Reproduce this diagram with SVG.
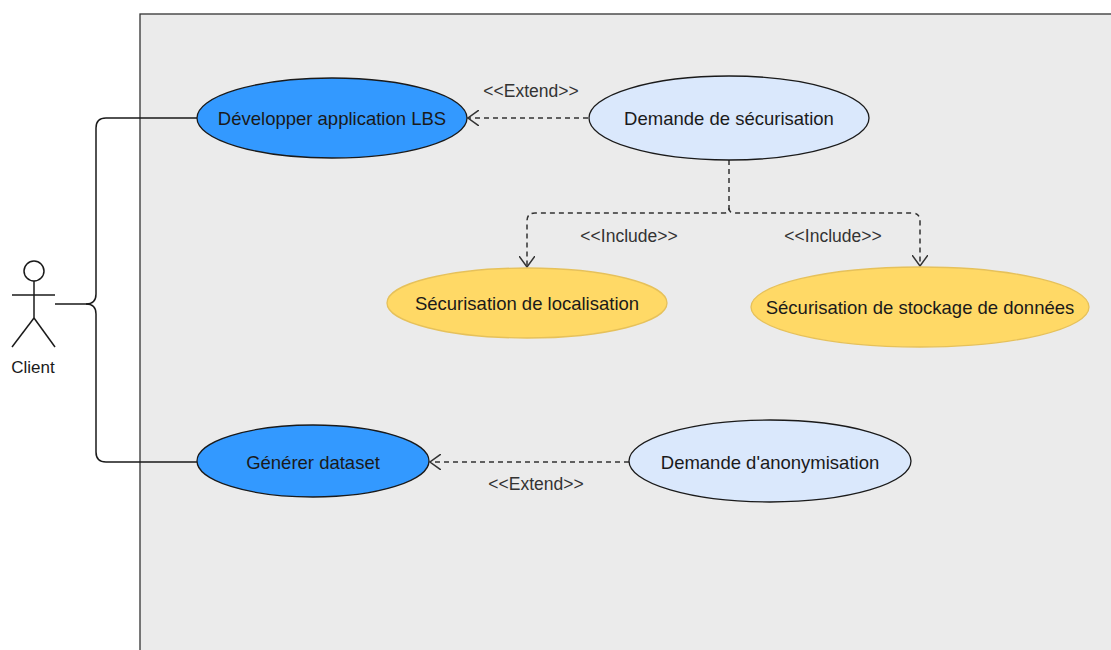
<svg xmlns="http://www.w3.org/2000/svg" width="1111" height="650" viewBox="0 0 1111 650">
<defs>
<style>
text{font-family:"Liberation Sans",Arial,sans-serif;text-anchor:middle;dominant-baseline:central;fill:#1a1a1a}
.lbl{font-size:18.5px}
.st{font-size:17.5px;fill:#333}
.blue{fill:#3399ff;stroke:#1a1a1a;stroke-width:1.3}
.lb{fill:#dae8fc;stroke:#1a1a1a;stroke-width:1.3}
.or{fill:#ffd966;stroke:#e6c15a;stroke-width:1.3}
.line{fill:none;stroke:#1a1a1a;stroke-width:1.5}
.dash{fill:none;stroke:#333;stroke-width:1.5;stroke-dasharray:5 4}
</style>
<marker id="open" viewBox="0 0 12 16" refX="11" refY="8" markerWidth="12" markerHeight="16" markerUnits="userSpaceOnUse" orient="auto">
<path d="M0,0 L11,8 L0,16" fill="none" stroke="#333" stroke-width="1.5"/>
</marker>
</defs>
<rect x="0" y="0" width="1111" height="650" fill="#ffffff"/>
<rect id="system" x="140" y="14" width="1000" height="660" fill="#ebebeb" stroke="#333" stroke-width="1.3"/>
<g id="actor-client" fill="none" stroke="#1a1a1a" stroke-width="1.5">
<circle cx="34" cy="271" r="10"/>
<line x1="34" y1="281" x2="34" y2="318"/>
<line x1="12" y1="295" x2="55" y2="295"/>
<line x1="34" y1="318" x2="12" y2="347"/>
<line x1="34" y1="318" x2="55" y2="347"/>
<text x="33" y="367" style="font-size:17px;stroke:none">Client</text>
</g>
<g id="connectors">
<path class="line" d="M55,304 H86 Q96,304 96,294 V128 Q96,118 106,118 H197"/>
<path class="line" d="M86,304 Q96,304 96,314 V452 Q96,462 106,462 H197"/>
<path class="dash" d="M588,118 H468" marker-end="url(#open)"/>
<path class="dash" d="M729,160 V208 Q729,213 724,213 H535 Q527,213 527,221 V267" marker-end="url(#open)"/>
<path class="dash" d="M729,208 Q729,213 734,213 H912 Q920,213 920,221 V266" marker-end="url(#open)"/>
<path class="dash" d="M629,462 H430" marker-end="url(#open)"/>
<text class="st" x="531" y="91">&lt;&lt;Extend&gt;&gt;</text>
<text class="st" x="629" y="236">&lt;&lt;Include&gt;&gt;</text>
<text class="st" x="833" y="236">&lt;&lt;Include&gt;&gt;</text>
<text class="st" x="536" y="484">&lt;&lt;Extend&gt;&gt;</text>
</g>
<g id="uc-developper">
<ellipse class="blue" cx="332" cy="118" rx="135" ry="40"/>
<text class="lbl" x="332" y="118">Développer application LBS</text>
</g>
<g id="uc-securisation">
<ellipse class="lb" cx="729" cy="118" rx="140" ry="42"/>
<text class="lbl" x="729" y="118">Demande de sécurisation</text>
</g>
<g id="uc-localisation">
<ellipse class="or" cx="527" cy="303" rx="140" ry="35"/>
<text class="lbl" x="527" y="303">Sécurisation de localisation</text>
</g>
<g id="uc-stockage">
<ellipse class="or" cx="920" cy="307" rx="169" ry="40"/>
<text class="lbl" x="920" y="307">Sécurisation de stockage de données</text>
</g>
<g id="uc-generer">
<ellipse class="blue" cx="313" cy="461" rx="116" ry="36"/>
<text class="lbl" x="313" y="462">Générer dataset</text>
</g>
<g id="uc-anonymisation">
<ellipse class="lb" cx="770" cy="461" rx="141" ry="41"/>
<text class="lbl" x="770" y="462">Demande d'anonymisation</text>
</g>
</svg>
